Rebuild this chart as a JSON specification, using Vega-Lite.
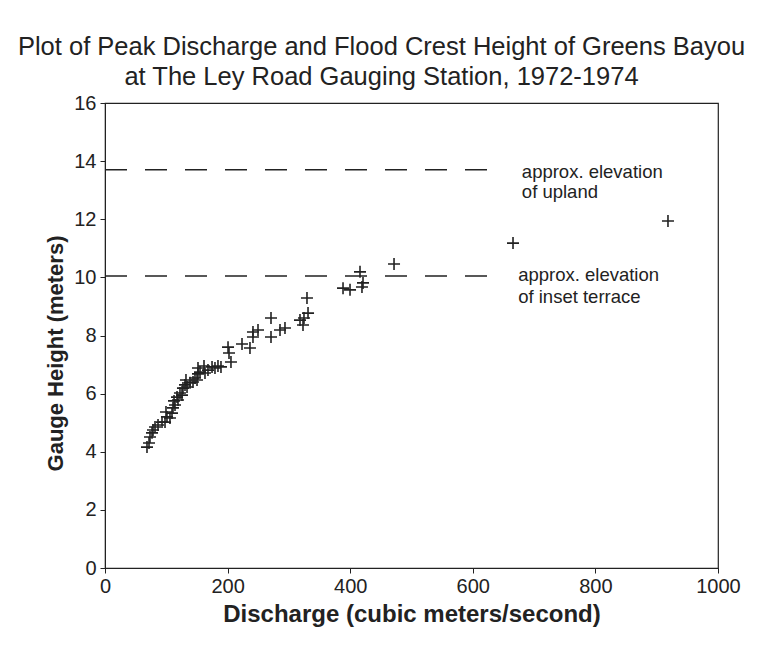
{
  "$schema": "https://vega.github.io/schema/vega-lite/v6.json",
  "width": 613,
  "height": 465,
  "autosize": {"type": "none"},
  "padding": {"left": 105, "top": 103, "right": 44, "bottom": 84},
  "background": "white",
  "title": {
    "text": ["Plot of Peak Discharge and Flood Crest Height of Greens Bayou", "at The Ley Road Gauging Station, 1972-1974"],
    "font": "Liberation Sans",
    "fontSize": 25.5,
    "fontWeight": "normal",
    "color": "#222222",
    "lineHeight": 30,
    "anchor": "middle",
    "frame": "bounds",
    "offset": 3,
    "dx": -11
  },
  "config": {
    "view": {"stroke": "#222222", "strokeWidth": 1.2},
    "axis": {
      "grid": false,
      "domainColor": "#222222",
      "tickColor": "#222222",
      "labelColor": "#222222",
      "titleColor": "#222222",
      "labelFont": "Liberation Sans",
      "titleFont": "Liberation Sans",
      "labelFontSize": 20,
      "titleFontSize": 24,
      "titleFontWeight": "bold",
      "tickSize": 5,
      "labelFlush": false,
      "labelOverlap": false,
      "format": "d"
    }
  },
  "datasets": {
    "pts": [
      {"q": 68.5, "h": 4.16}, {"q": 71.8, "h": 4.30}, {"q": 73.4, "h": 4.51}, {"q": 76.7, "h": 4.65},
      {"q": 78.3, "h": 4.75}, {"q": 81.6, "h": 4.85}, {"q": 86.5, "h": 4.92}, {"q": 93.0, "h": 5.02},
      {"q": 97.9, "h": 5.02}, {"q": 101.1, "h": 5.20}, {"q": 106.0, "h": 5.16}, {"q": 99.5, "h": 5.37},
      {"q": 109.3, "h": 5.33}, {"q": 110.9, "h": 5.51}, {"q": 114.2, "h": 5.61}, {"q": 112.6, "h": 5.75},
      {"q": 119.1, "h": 5.78}, {"q": 117.5, "h": 5.88}, {"q": 125.6, "h": 5.95}, {"q": 122.3, "h": 6.02},
      {"q": 127.2, "h": 6.19}, {"q": 130.5, "h": 6.30}, {"q": 133.8, "h": 6.23}, {"q": 132.1, "h": 6.47},
      {"q": 138.7, "h": 6.37}, {"q": 143.6, "h": 6.40}, {"q": 146.8, "h": 6.54}, {"q": 150.1, "h": 6.47},
      {"q": 151.7, "h": 6.68}, {"q": 155.0, "h": 6.74}, {"q": 151.7, "h": 6.88}, {"q": 163.1, "h": 6.71},
      {"q": 168.0, "h": 6.81}, {"q": 174.6, "h": 6.92}, {"q": 179.4, "h": 6.88}, {"q": 184.3, "h": 6.95},
      {"q": 189.2, "h": 6.92}, {"q": 161.5, "h": 6.95}, {"q": 200.7, "h": 7.60}, {"q": 202.3, "h": 7.40},
      {"q": 205.5, "h": 7.09}, {"q": 223.5, "h": 7.71}, {"q": 236.5, "h": 7.57}, {"q": 241.4, "h": 8.12},
      {"q": 249.6, "h": 8.19}, {"q": 241.4, "h": 7.95}, {"q": 270.8, "h": 8.60}, {"q": 270.8, "h": 7.95},
      {"q": 285.5, "h": 8.19}, {"q": 293.6, "h": 8.26}, {"q": 318.1, "h": 8.53}, {"q": 323.0, "h": 8.36},
      {"q": 324.6, "h": 8.60}, {"q": 331.2, "h": 8.77}, {"q": 329.5, "h": 9.29}, {"q": 388.3, "h": 9.63},
      {"q": 399.7, "h": 9.57}, {"q": 416.0, "h": 10.19}, {"q": 420.9, "h": 9.81}, {"q": 419.2, "h": 9.67},
      {"q": 471.5, "h": 10.46}, {"q": 665.6, "h": 11.18}, {"q": 918.4, "h": 11.94}
    ],
    "levels": [
      {"level": "upland", "h": 13.7, "q1": 0, "q2": 650},
      {"level": "inset terrace", "h": 10.05, "q1": 0, "q2": 650}
    ],
    "notes": [
      {"q": 680, "h": 13.63, "label": "approx. elevation"},
      {"q": 680, "h": 12.95, "label": "of upland"},
      {"q": 674, "h": 10.08, "label": "approx. elevation"},
      {"q": 674, "h": 9.33, "label": "of inset terrace"}
    ]
  },
  "layer": [
    {
      "data": {"name": "levels"},
      "mark": {"type": "rule", "color": "#222222", "strokeWidth": 1.5, "strokeDash": [22, 18]},
      "encoding": {
        "x": {"field": "q1", "type": "quantitative", "scale": {"domain": [0, 1000]},
              "axis": {"title": "Discharge (cubic meters/second)", "values": [0, 200, 400, 600, 800, 1000], "labelPadding": 3, "titlePadding": 6}},
        "x2": {"field": "q2"},
        "y": {"field": "h", "type": "quantitative", "scale": {"domain": [0, 16]},
              "axis": {"title": "Gauge Height (meters)", "values": [0, 2, 4, 6, 8, 10, 12, 14, 16], "labelPadding": 4, "titlePadding": 6, "titleFontSize": 22, "titleY": 250}}
      }
    },
    {
      "data": {"name": "pts"},
      "mark": {"type": "point", "shape": "M-1,0H1M0,-1V1", "filled": false, "stroke": "#222222", "strokeWidth": 1.6, "size": 144, "opacity": 1},
      "encoding": {
        "x": {"field": "q", "type": "quantitative"},
        "y": {"field": "h", "type": "quantitative"}
      }
    },
    {
      "data": {"name": "notes"},
      "mark": {"type": "text", "align": "left", "baseline": "middle", "font": "Liberation Sans", "fontSize": 18.5, "color": "#222222"},
      "encoding": {
        "x": {"field": "q", "type": "quantitative"},
        "y": {"field": "h", "type": "quantitative"},
        "text": {"field": "label"}
      }
    }
  ]
}
